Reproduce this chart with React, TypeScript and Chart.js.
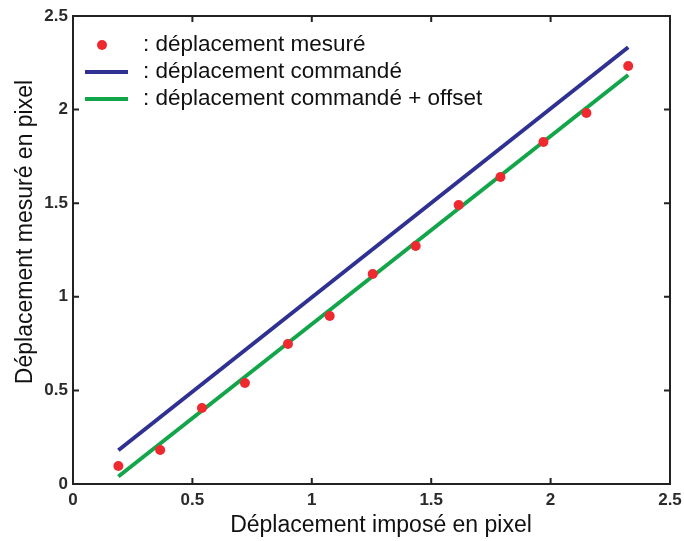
import React, { useEffect, useRef } from "react";
import { Chart, registerables } from "chart.js";
Chart.register(...registerables);

const measuredX = [0.19, 0.365, 0.54, 0.72, 0.9, 1.075, 1.255, 1.435, 1.615, 1.79, 1.97, 2.15, 2.325];
const measuredY = [0.096, 0.182, 0.406, 0.54, 0.748, 0.897, 1.122, 1.271, 1.49, 1.64, 1.827, 1.982, 2.233];
const commandX = [0.19, 2.325];
const commandY = [0.18, 2.333];
const offsetY = [0.04, 2.185];
const tickValues = [0, 0.5, 1, 1.5, 2, 2.5];
const tickLabels = ["0", "0.5", "1", "1.5", "2", "2.5"];
const legendLabels = [
  ": déplacement mesuré",
  ": déplacement commandé",
  ": déplacement commandé + offset",
];
const xTitle = "Déplacement imposé en pixel";
const yTitle = "Déplacement mesuré en pixel";

const RED = "#ee2a30";
const BLUE = "#2e3192";
const GREEN = "#12a54a";
const FONT = "'Liberation Sans', Arial, sans-serif";

export default function App() {
  const ref = useRef<HTMLCanvasElement | null>(null);
  useEffect(() => {
    document.body.style.margin = "0";
    const canvas = ref.current;
    if (!canvas) return;

    const framePlugin = {
      id: "frame",
      afterDraw(chart: any) {
        const ctx = chart.ctx as CanvasRenderingContext2D;
        const { left, right, top, bottom } = chart.chartArea;
        const xs = chart.scales.x;
        const ys = chart.scales.y;
        ctx.save();
        ctx.strokeStyle = "#222";
        ctx.lineWidth = 2;
        ctx.strokeRect(left, top, right - left, bottom - top);
        const tl = 6;
        ctx.beginPath();
        tickValues.forEach((v) => {
          const px = xs.getPixelForValue(v);
          ctx.moveTo(px, bottom);
          ctx.lineTo(px, bottom - tl);
          ctx.moveTo(px, top);
          ctx.lineTo(px, top + tl);
          const py = ys.getPixelForValue(v);
          ctx.moveTo(left, py);
          ctx.lineTo(left + tl, py);
          ctx.moveTo(right, py);
          ctx.lineTo(right - tl, py);
        });
        ctx.stroke();

        // axis titles
        ctx.fillStyle = "#111";
        ctx.font = `23px ${FONT}`;
        ctx.textAlign = "center";
        ctx.textBaseline = "middle";
        ctx.fillText(xTitle, 381, 526);
        ctx.save();
        ctx.translate(26, 232);
        ctx.rotate(-Math.PI / 2);
        ctx.fillText(yTitle, 0, 0);
        ctx.restore();

        // legend
        const rows = [45, 72, 99];
        ctx.fillStyle = RED;
        ctx.beginPath();
        ctx.arc(102, rows[0], 5, 0, Math.PI * 2);
        ctx.fill();
        ctx.lineWidth = 4;
        ctx.strokeStyle = BLUE;
        ctx.beginPath();
        ctx.moveTo(85, rows[1]);
        ctx.lineTo(128, rows[1]);
        ctx.stroke();
        ctx.strokeStyle = GREEN;
        ctx.beginPath();
        ctx.moveTo(85, rows[2]);
        ctx.lineTo(128, rows[2]);
        ctx.stroke();
        ctx.fillStyle = "#111";
        ctx.font = `22.5px ${FONT}`;
        ctx.textAlign = "left";
        legendLabels.forEach((t, i) => ctx.fillText(t, 143, rows[i]));
        ctx.restore();
      },
    };

    const tickFont = { family: FONT, size: 17, weight: "bold" as const };

    const chart = new Chart(canvas, {
      type: "scatter",
      data: {
        datasets: [
          {
            type: "scatter",
            label: legendLabels[0],
            data: measuredX.map((x, i) => ({ x, y: measuredY[i] })),
            backgroundColor: RED,
            borderWidth: 0,
            pointRadius: 5,
          },
          {
            type: "line",
            label: legendLabels[1],
            data: commandX.map((x, i) => ({ x, y: commandY[i] })),
            borderColor: BLUE,
            borderWidth: 4,
            pointRadius: 0,
            fill: false,
          },
          {
            type: "line",
            label: legendLabels[2],
            data: commandX.map((x, i) => ({ x, y: offsetY[i] })),
            borderColor: GREEN,
            borderWidth: 4,
            pointRadius: 0,
            fill: false,
          },
        ] as any,
      },
      options: {
        responsive: false,
        animation: false,
        layout: { padding: { top: 16, right: 14, left: 0, bottom: 0 } },
        plugins: { legend: { display: false }, tooltip: { enabled: false } },
        scales: {
          x: {
            type: "linear",
            min: 0,
            max: 2.5,
            grid: { display: false, drawTicks: false },
            border: { display: false },
            afterFit(s: any) {
              s.height = 57;
              s.paddingLeft = 0;
              s.paddingRight = 0;
            },
            ticks: {
              stepSize: 0.5,
              padding: 6,
              color: "#2a2a2a",
              font: tickFont,
              callback: (_v: any, i: number) => tickLabels[i],
            },
          },
          y: {
            type: "linear",
            min: 0,
            max: 2.5,
            grid: { display: false, drawTicks: false },
            border: { display: false },
            afterFit(s: any) {
              s.width = 73;
              s.paddingTop = 0;
              s.paddingBottom = 0;
            },
            ticks: {
              stepSize: 0.5,
              padding: 5,
              color: "#2a2a2a",
              font: tickFont,
              callback: (_v: any, i: number) => tickLabels[i],
            },
          },
        },
      },
      plugins: [framePlugin],
    });
    return () => chart.destroy();
  }, []);

  return (
    <div style={{ width: 684, height: 541 }}>
      <canvas ref={ref} width={684} height={541} style={{ width: 684, height: 541, display: "block" }} />
    </div>
  );
}
